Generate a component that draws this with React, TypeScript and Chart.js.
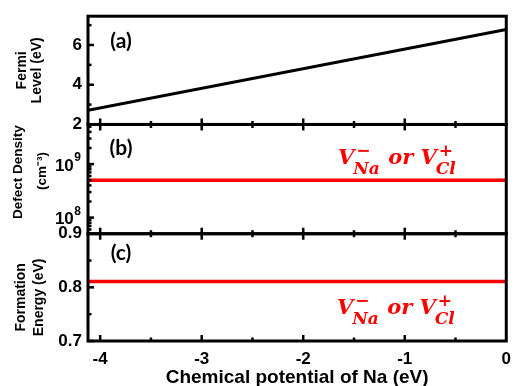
import React, { useEffect, useRef } from 'react';
import { Chart, registerables } from 'chart.js';

Chart.register(...registerables);

// ---------------- data ----------------
const chemicalPotential = [-4.12, 0];
const fermiLevel = [2.72, 6.78];
const defectDensity = [5.0e8, 5.0e8];
const formationEnergy = [0.811, 0.811];

const xMajorTicks = [-4, -3, -2, -1];
const xMinorTicks = [-3.5, -2.5, -1.5, -0.5];
const fermiMajorTicks = [2, 4, 6];
const fermiMinorTicks = [3, 5, 7];
const densityMajorTicks = [1e8, 1e9];
const densityMinorTicks = [6e7, 7e7, 8e7, 9e7, 2e8, 3e8, 4e8, 5e8, 6e8, 7e8, 8e8, 9e8, 2e9, 3e9, 4e9, 5e9];
const densityTickExponents = [8, 9];
const energyMajorTicks = [0.7, 0.8, 0.9];
const energyMinorTicks = [0.75, 0.85];

const panelLabels = ['(a)', '(b)', '(c)'];
const fermiTitle = ['Fermi', 'Level (eV)'];
const densityTitle = ['Defect Density', '(cm\u207B\u00B3)'];
const energyTitle = ['Formation', 'Energy (eV)'];
const xTitle = 'Chemical potential of Na (eV)';
const defectBase = 'V';
const defectSpecies = ['Na', 'Cl'];
const defectCharges = ['\u2212', '+'];
const defectJoin = ' or ';

// ---------------- styles ----------------
const SANS = '"Liberation Sans", Arial, sans-serif';
const SERIF = '"DejaVu Serif", serif';
const RED = '#ff0000';
const BLACK = '#000000';

function line(ctx: CanvasRenderingContext2D, x0: number, y0: number, x1: number, y1: number) {
  ctx.beginPath();
  ctx.moveTo(x0, y0);
  ctx.lineTo(x1, y1);
  ctx.stroke();
}

function drawDefectLabel(ctx: CanvasRenderingContext2D, x0: number, baseline: number) {
  const mainFont = `italic bold 21px ${SERIF}`;
  const subFont = `italic bold 17px ${SERIF}`;
  const supFont = `bold 17px ${SERIF}`;
  ctx.fillStyle = RED;
  ctx.textAlign = 'left';
  ctx.textBaseline = 'alphabetic';
  let cx = x0;
  for (let i = 0; i < 2; i++) {
    ctx.font = mainFont;
    ctx.fillText(defectBase, cx, baseline);
    cx += ctx.measureText(defectBase).width;
    ctx.font = subFont;
    const wSub = ctx.measureText(defectSpecies[i]).width;
    ctx.fillText(defectSpecies[i], cx - 1, baseline + 10);
    ctx.font = supFont;
    const wSup = ctx.measureText(defectCharges[i]).width;
    ctx.fillText(defectCharges[i], cx + 2, baseline - 8);
    cx += Math.max(wSub, wSup + 2);
    if (i === 0) {
      ctx.font = mainFont;
      ctx.fillText(defectJoin, cx, baseline);
      cx += ctx.measureText(defectJoin).width;
    }
  }
}

function drawRotated(ctx: CanvasRenderingContext2D, text: string, cx: number, cy: number, font: string) {
  ctx.save();
  ctx.translate(cx, cy);
  ctx.rotate(-Math.PI / 2);
  ctx.font = font;
  ctx.fillStyle = BLACK;
  ctx.textAlign = 'center';
  ctx.textBaseline = 'middle';
  ctx.fillText(text, 0, 0);
  ctx.restore();
}

const framePlugin = {
  id: 'frame',
  afterDatasetsDraw(chart: any) {
    const { ctx, chartArea, scales } = chart;
    const { left, right } = chartArea;
    const xs = scales.x;
    const panels = [scales.yA, scales.yB, scales.yC];
    ctx.save();
    ctx.strokeStyle = BLACK;
    ctx.lineCap = 'butt';
    ctx.lineWidth = 2.5;
    panels.forEach((s: any, i: number) => {
      xMajorTicks.forEach((v) => {
        const px = xs.getPixelForValue(v);
        line(ctx, px, s.bottom, px, s.bottom - 6);
        if (i > 0) line(ctx, px, s.top, px, s.top + 6);
      });
      xMinorTicks.forEach((v) => {
        const px = xs.getPixelForValue(v);
        line(ctx, px, s.bottom, px, s.bottom - 3.5);
        if (i > 0) line(ctx, px, s.top, px, s.top + 3.5);
      });
    });
    const yTicks = (s: any, majors: number[], minors: number[]) => {
      majors.forEach((v) => {
        const py = s.getPixelForValue(v);
        line(ctx, left, py, left + 6, py);
      });
      minors.forEach((v) => {
        const py = s.getPixelForValue(v);
        line(ctx, left, py, left + 3.5, py);
      });
    };
    yTicks(scales.yA, fermiMajorTicks, fermiMinorTicks);
    yTicks(scales.yB, densityMajorTicks, densityMinorTicks);
    yTicks(scales.yC, energyMajorTicks, energyMinorTicks);
    ctx.lineWidth = 3;
    panels.forEach((s: any) => {
      ctx.strokeRect(left, s.top, right - left, s.bottom - s.top);
    });
    ctx.restore();
  },
  afterDraw(chart: any) {
    const { ctx, scales } = chart;
    const yA = scales.yA, yB = scales.yB, yC = scales.yC;
    ctx.save();
    // log tick labels 10^n
    densityTickExponents.forEach((e) => {
      const py = yB.getPixelForValue(Math.pow(10, e));
      ctx.fillStyle = BLACK;
      ctx.textAlign = 'right';
      ctx.textBaseline = 'middle';
      ctx.font = `bold 12px ${SANS}`;
      const wExp = ctx.measureText(String(e)).width;
      ctx.fillText(String(e), 81, py - 6);
      ctx.font = `bold 17px ${SANS}`;
      ctx.fillText('10', 81 - wExp - 0.5, py + 2);
    });
    // y titles
    const tFont = `bold 14px ${SANS}`;
    const midA = (yA.top + yA.bottom) / 2;
    const midB = (yB.top + yB.bottom) / 2;
    const midC = (yC.top + yC.bottom) / 2;
    drawRotated(ctx, fermiTitle[0], 22, midA, tFont);
    drawRotated(ctx, fermiTitle[1], 37, midA, tFont);
    drawRotated(ctx, densityTitle[0], 18, midB - 7, `bold 13.5px ${SANS}`);
    drawRotated(ctx, densityTitle[1], 42, midB - 8, `bold 13.5px ${SANS}`);
    drawRotated(ctx, energyTitle[0], 21, midC + 10, tFont);
    drawRotated(ctx, energyTitle[1], 39, midC + 10, tFont);
    // panel labels
    ctx.fillStyle = BLACK;
    ctx.font = `bold 21px Lato, ${SANS}`;
    ctx.textAlign = 'center';
    ctx.textBaseline = 'middle';
    ctx.fillText(panelLabels[0], 121, yA.top + 25);
    ctx.fillText(panelLabels[1], 121, yB.top + 24);
    ctx.fillText(panelLabels[2], 121, yC.top + 20);
    // defect annotations
    drawDefectLabel(ctx, 338, 163.5);
    drawDefectLabel(ctx, 337, 314);
    ctx.restore();
  },
};

export default function App() {
  const canvasRef = useRef<HTMLCanvasElement | null>(null);

  useEffect(() => {
    document.body.style.margin = '0';
    const canvas = canvasRef.current;
    if (!canvas) return;
    const tickFont = { family: SANS, size: 17, weight: 'bold' as const };
    const noGrid = { display: false, drawTicks: false };
    const chart = new Chart(canvas, {
      type: 'line',
      data: {
        datasets: [
          {
            label: 'Fermi level',
            data: chemicalPotential.map((x, i) => ({ x, y: fermiLevel[i] })),
            yAxisID: 'yA',
            borderColor: BLACK,
            borderWidth: 3,
            pointRadius: 0,
            tension: 0,
          },
          {
            label: 'Defect density',
            data: chemicalPotential.map((x, i) => ({ x, y: defectDensity[i] })),
            yAxisID: 'yB',
            borderColor: RED,
            borderWidth: 3.5,
            pointRadius: 0,
          },
          {
            label: 'Formation energy',
            data: chemicalPotential.map((x, i) => ({ x, y: formationEnergy[i] })),
            yAxisID: 'yC',
            borderColor: RED,
            borderWidth: 3.5,
            pointRadius: 0,
          },
        ],
      },
      options: {
        animation: false,
        responsive: false,
        maintainAspectRatio: false,
        devicePixelRatio: 1,
        layout: { padding: { top: 14, right: 2, left: 0, bottom: 0 } },
        plugins: { legend: { display: false }, tooltip: { enabled: false } },
        scales: {
          x: {
            type: 'linear',
            min: -4.12,
            max: 0,
            grid: noGrid,
            border: { display: false },
            ticks: {
              stepSize: 1,
              includeBounds: false,
              font: tickFont,
              color: BLACK,
              padding: 8,
              maxRotation: 0,
              autoSkip: false,
              callback: (v: any) => String(v),
            },
            title: {
              display: true,
              text: xTitle,
              color: BLACK,
              font: { family: SANS, size: 19, weight: 'bold', lineHeight: 1 },
              padding: { top: 0, bottom: -1 },
            },
            afterFit: (s: any) => {
              s.height = 45;
            },
          },
          yA: {
            type: 'linear',
            position: 'left',
            stack: 'panels',
            stackWeight: 109,
            weight: 3,
            min: 2,
            max: 7.45,
            grid: noGrid,
            border: { display: false },
            ticks: {
              stepSize: 2,
              includeBounds: false,
              font: tickFont,
              color: BLACK,
              padding: 6,
              callback: (v: any) => String(v),
            },
            afterFit: (s: any) => {
              s.width = 88;
            },
          },
          yB: {
            type: 'logarithmic',
            position: 'left',
            stack: 'panels',
            stackWeight: 110,
            weight: 2,
            min: 5.0e7,
            max: 5.5e9,
            grid: noGrid,
            border: { display: false },
            ticks: { display: false },
            afterFit: (s: any) => {
              s.width = 88;
            },
          },
          yC: {
            type: 'linear',
            position: 'left',
            stack: 'panels',
            stackWeight: 108,
            weight: 1,
            min: 0.7,
            max: 0.9,
            grid: noGrid,
            border: { display: false },
            ticks: {
              stepSize: 0.1,
              includeBounds: false,
              font: tickFont,
              color: BLACK,
              padding: 6,
              callback: (v: any) => Number(v).toFixed(1),
            },
            afterFit: (s: any) => {
              s.width = 88;
            },
          },
        },
      } as any,
      plugins: [framePlugin],
    });
    return () => chart.destroy();
  }, []);

  return (
    <div style={{ width: 519, height: 386, position: 'relative', background: '#fff' }}>
      <canvas ref={canvasRef} width={519} height={386} style={{ display: 'block' }} />
    </div>
  );
}
